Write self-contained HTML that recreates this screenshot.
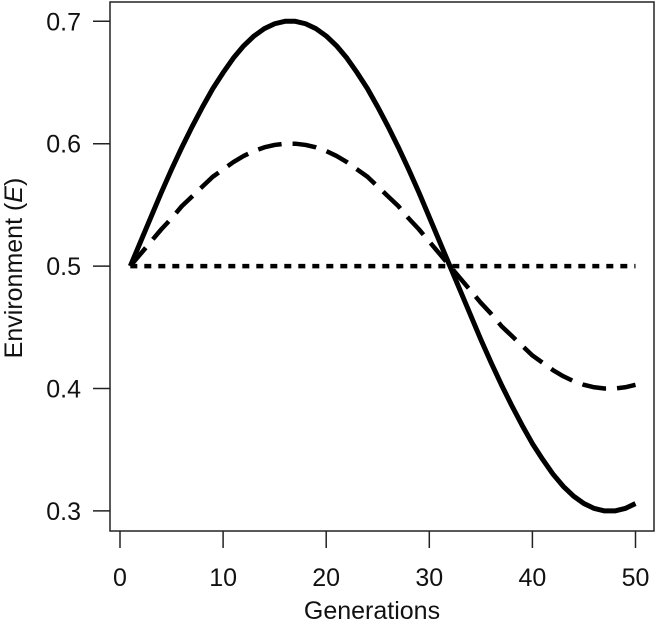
<!DOCTYPE html>
<html><head><meta charset="utf-8"><style>
html,body{margin:0;padding:0;background:#fff;}
svg{display:block;font-family:"Liberation Sans",Arial,sans-serif;}
</style></head><body>
<svg id="chart" width="659" height="628" viewBox="0 0 659 628">
<rect x="110" y="2" width="544" height="529" fill="none" stroke="#222" stroke-width="1.5"/>
<g id="xaxis"></g>
<g id="yaxis"></g>
<g id="series"></g>
<text x="372" y="619" font-size="25" text-anchor="middle" fill="#111">Generations</text>
<text transform="translate(22,268) rotate(-90)" font-size="25" text-anchor="middle" fill="#111">Environment (<tspan font-style="italic">E</tspan>)</text>
</svg>
<script>
const xTicks = [0, 10, 20, 30, 40, 50];
const yTicks = [0.3, 0.4, 0.5, 0.6, 0.7];
const yTickLabels = ["0.3", "0.4", "0.5", "0.6", "0.7"];
const generations = [1,2,3,4,5,6,7,8,9,10,11,12,13,14,15,16,17,18,19,20,21,22,23,24,25,26,27,28,29,30,31,32,33,34,35,36,37,38,39,40,41,42,43,44,45,46,47,48,49,50];
const solidValues = [0.500,0.520,0.540,0.560,0.579,0.597,0.614,0.630,0.645,0.658,0.670,0.680,0.688,0.694,0.698,0.700,0.700,0.698,0.694,0.688,0.680,0.670,0.658,0.645,0.630,0.614,0.597,0.579,0.560,0.540,0.520,0.500,0.480,0.460,0.440,0.421,0.403,0.386,0.370,0.355,0.342,0.330,0.320,0.312,0.306,0.302,0.300,0.300,0.302,0.306];
const dashedValues = [0.500,0.510,0.520,0.530,0.539,0.549,0.557,0.565,0.573,0.579,0.585,0.590,0.594,0.597,0.599,0.600,0.600,0.599,0.597,0.594,0.590,0.585,0.579,0.573,0.565,0.557,0.549,0.539,0.530,0.520,0.510,0.500,0.490,0.480,0.470,0.461,0.451,0.443,0.435,0.427,0.421,0.415,0.410,0.406,0.403,0.401,0.400,0.400,0.401,0.403];
const dottedValues = [0.5,0.5,0.5,0.5,0.5,0.5,0.5,0.5,0.5,0.5,0.5,0.5,0.5,0.5,0.5,0.5,0.5,0.5,0.5,0.5,0.5,0.5,0.5,0.5,0.5,0.5,0.5,0.5,0.5,0.5,0.5,0.5,0.5,0.5,0.5,0.5,0.5,0.5,0.5,0.5,0.5,0.5,0.5,0.5,0.5,0.5,0.5,0.5,0.5,0.5];

const NS = "http://www.w3.org/2000/svg";
function xs(v){ return 120 + 10.31 * v; }
function ys(v){ return 21.3 + (0.7 - v) * 1224; }

const xg = document.getElementById('xaxis');
xTicks.forEach(t => {
  const l = document.createElementNS(NS, 'line');
  l.setAttribute('x1', xs(t)); l.setAttribute('x2', xs(t));
  l.setAttribute('y1', 531); l.setAttribute('y2', 548);
  l.setAttribute('stroke', '#222'); l.setAttribute('stroke-width', '1.5');
  
  
  xg.appendChild(l);
  const tx = document.createElementNS(NS, 'text');
  tx.setAttribute('x', xs(t)); tx.setAttribute('y', 586);
  tx.setAttribute('font-size', '25'); tx.setAttribute('text-anchor', 'middle'); tx.setAttribute('fill', '#111');
  tx.textContent = String(t);
  
  
  xg.appendChild(tx);
});
const yg = document.getElementById('yaxis');
yTicks.forEach((t, i) => {
  const l = document.createElementNS(NS, 'line');
  l.setAttribute('x1', 93); l.setAttribute('x2', 110);
  l.setAttribute('y1', ys(t)); l.setAttribute('y2', ys(t));
  l.setAttribute('stroke', '#222'); l.setAttribute('stroke-width', '1.5');
  
  
  yg.appendChild(l);
  const tx = document.createElementNS(NS, 'text');
  tx.setAttribute('x', 81); tx.setAttribute('y', ys(t) + 9);
  tx.setAttribute('font-size', '25'); tx.setAttribute('text-anchor', 'end'); tx.setAttribute('fill', '#111');
  tx.textContent = yTickLabels[i];
  
  
  yg.appendChild(tx);
});
function drawLine(vals, width, dash, name){
  const p = document.createElementNS(NS, 'polyline');
  p.setAttribute('points', vals.map((v, i) => xs(generations[i]) + ',' + ys(v)).join(' '));
  p.setAttribute('fill', 'none'); p.setAttribute('stroke', '#000');
  p.setAttribute('stroke-width', width);
  p.setAttribute('stroke-linejoin', 'round');
  if (dash) p.setAttribute('stroke-dasharray', dash);
  
  
  document.getElementById('series').appendChild(p);
}
drawLine(dottedValues, 4.5, '7 7', 'dotted-line-series');
drawLine(dashedValues, 4.5, '24 11', 'dashed-line-series');
drawLine(solidValues, 5, null, 'solid-line-series');
</script>
</body></html>
